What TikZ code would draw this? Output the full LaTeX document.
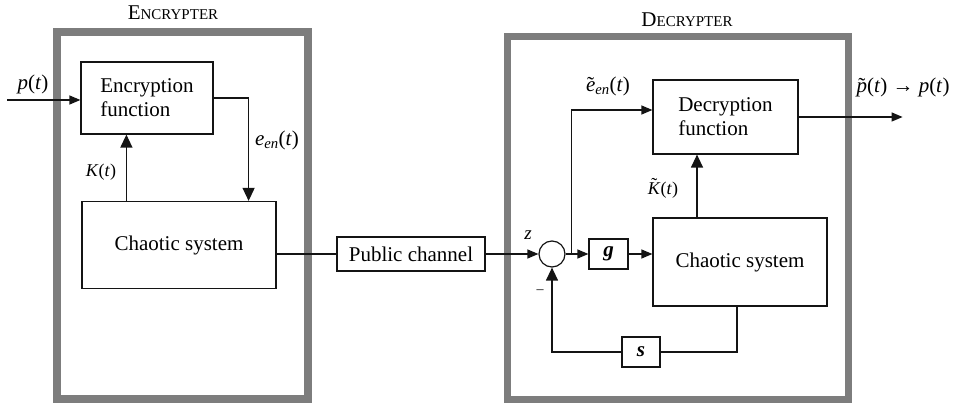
\documentclass[tikz,border=0pt]{standalone}
\usepackage{fontspec}
\setmainfont{Liberation Serif}
\usetikzlibrary{arrows.meta, calc}
\definecolor{crframe}{RGB}{125, 125, 125}
\definecolor{crline}{RGB}{20, 20, 20}
% letra cursiva con tilde encima
\newcommand{\tld}[2][0pt]{\ooalign{\textit{#2}\cr\hidewidth\raisebox{#1}{˜}\hidewidth\cr}}

\begin{document}
\begin{tikzpicture}[x=1pt, y=-1pt,
    blk/.style={draw=crline, line width=1.2pt, inner sep=0pt, font=\fontsize{21}{24}\selectfont},
    wire/.style={crline, line width=1.2pt},
    tip/.style={wire, -{Triangle[length=11pt, width=9pt]}},
    bigtip/.style={wire, -{Triangle[length=13pt, width=12pt]}},
    lbl/.style={font=\fontsize{21}{24}\selectfont},
    frame/.style={crframe, line width=8pt}]

\useasboundingbox (0,0) rectangle (954,411);

% Marcos gruesos
\draw[frame] (57,32) rectangle (308,399);
\draw[frame, line width=7pt] (507,37) rectangle (848,400);
\node[lbl] (titE) at (173,13) {E{\fontsize{15}{18}\selectfont NCRYPTER}};
\node[lbl] (titD) at (687,20) {D{\fontsize{15}{18}\selectfont ECRYPTER}};

% Encriptador
\node[blk, minimum width=132, minimum height=72, align=left] (enc) at (147,98) {Encryption\\function};
\node[blk, minimum width=194, minimum height=87] (chaosE) at (179,245) {Chaotic system};
\coordinate (pin) at (7,100);
\draw[tip] (pin) -- (pin -| enc.west);
\node[lbl] (plbl) at (33,84) {\textit{p}(\textit{t})};
\draw[bigtip] ([xshift=45]chaosE.north west) -- ([xshift=45]chaosE.north west |- enc.south);
\node[lbl, font=\fontsize{18}{20}\selectfont] (klbl) at (101,172) {\textit{K}(\textit{t})};
\draw[bigtip] (enc.east) -| ([xshift=-28]chaosE.north east);
\node[lbl] (elbl) at (277,140) {\textit{e}\textsubscript{\textit{en}}(\textit{t})};

% Canal publico
\node[blk, minimum width=148, minimum height=34] (pub) at (411,254) {Public channel};
\draw[wire] (chaosE.east |- pub) -- (pub.west);

% Desencriptador
\node[draw=crline, line width=1.2pt, circle, minimum size=26, inner sep=0pt] (sum) at (552,254) {};
\node[blk, minimum width=39, minimum height=30] (g) at (608.5,254) {\textbf{\textit{g}}};
\node[blk, minimum width=145, minimum height=74, align=left] (dec) at (725.5,117) {Decryption\\function};
\node[blk, minimum width=174, minimum height=88] (chaosD) at (740,262) {Chaotic system};
\node[blk, minimum width=38, minimum height=30] (s) at (641,352) {\textbf{\textit{s}}};

\draw[tip] (pub.east) -- (sum.west);
\node[lbl, font=\fontsize{19}{20}\selectfont] (zlbl) at (528,235) {\textit{z}};
\draw[tip] (sum.east) -- (g.west);
\coordinate (br) at ([xshift=6]sum.east);
\draw[tip] (br) |- ([yshift=7]dec.west);
\node[lbl] (etlbl) at (608,86) {\tld{e}\textsubscript{\textit{en}}(\textit{t})};
\draw[tip] (g.east) -- (g.east -| chaosD.west);
\draw[bigtip] ([xshift=-43]chaosD.north) -- ([xshift=-43]chaosD.north |- dec.south);
\node[lbl, font=\fontsize{18}{20}\selectfont] (ktlbl) at (663,190) {\tld[0.22em]{K}(\textit{t})};
\coordinate (pout) at ([xshift=104]dec.east);
\draw[tip] (dec.east) -- (pout);
\node[lbl] (ptlbl) at (903,87) {\tld{p}(\textit{t}) → \textit{p}(\textit{t})};

% Realimentacion
\draw[wire] ([xshift=-3]chaosD.south) |- (s.east);
\draw[bigtip] (s.west) -| (sum.south);
\node[lbl, font=\fontsize{14}{16}\selectfont] (minus) at (540,292) {–};

\end{tikzpicture}
\end{document}
